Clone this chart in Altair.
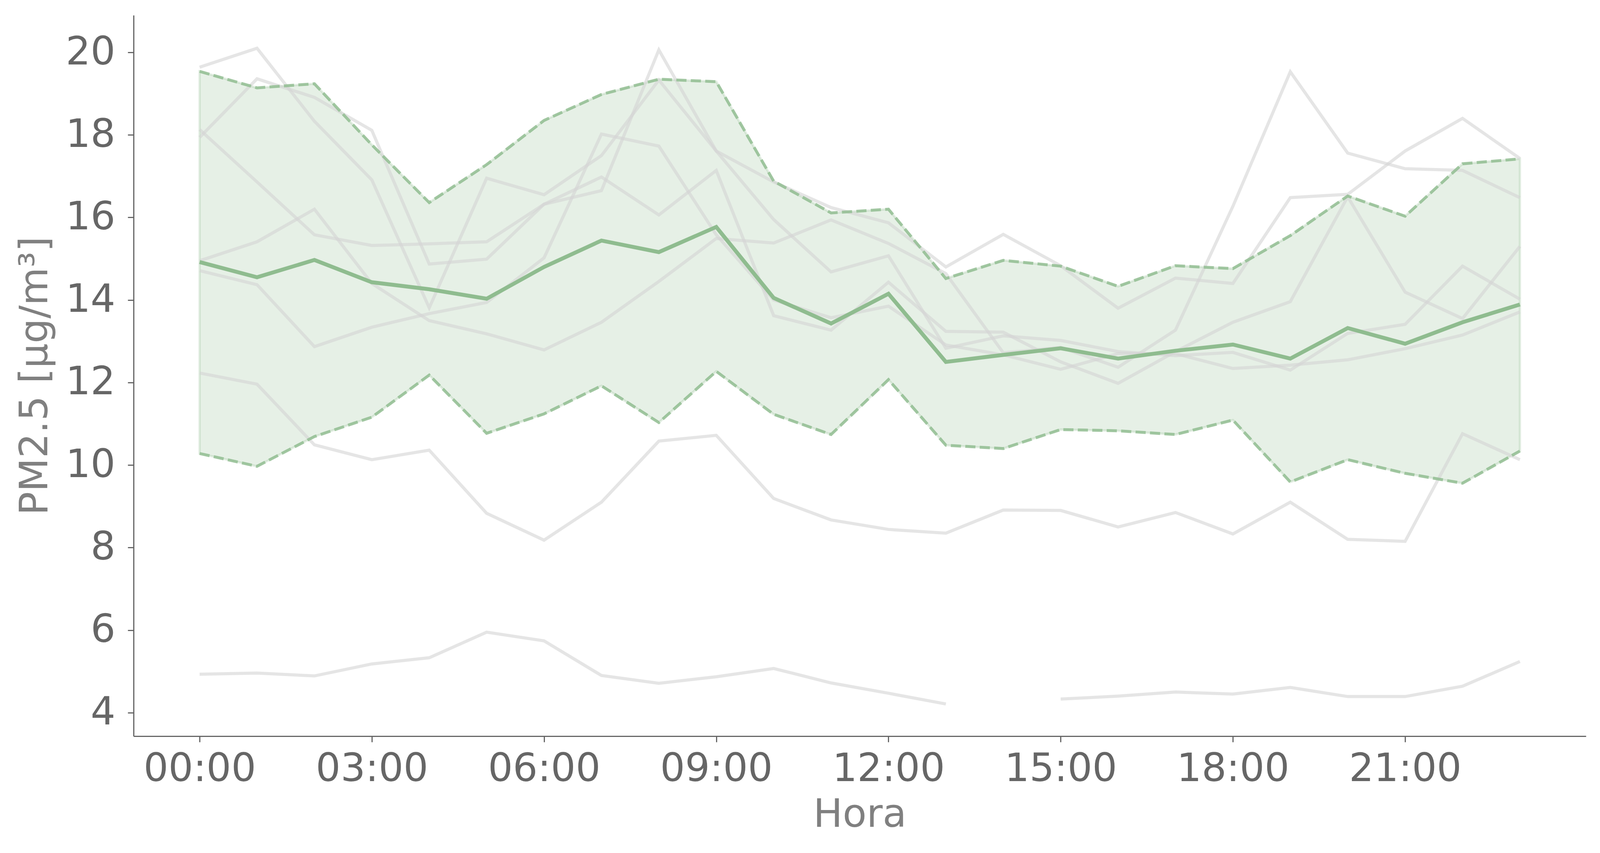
import altair as alt
import pandas as pd

hours = list(range(24))

s1 = [19.64, 20.10, 18.33, 16.91, 13.81, 16.95, 16.55, 17.50, 19.33, 17.61, 15.95, 14.68,
      15.07, 12.83, 13.13, 13.02, 12.75, 12.65, 12.73, 12.30, 13.19, 13.41, 14.82, 14.02]
s2 = [17.94, 19.36, 18.91, 18.11, 14.87, 14.99, 16.32, 16.65, 20.06, 17.61, 16.86, 16.24,
      15.87, 14.80, 15.59, 14.83, 13.80, 14.53, 14.40, 16.48, 16.56, 17.61, 18.40, 17.43]
s3 = [18.13, 16.86, 15.58, 15.32, 15.36, 15.41, 16.32, 16.98, 16.06, 17.14, 13.62, 13.27,
      14.43, 13.24, 13.22, 12.50, 11.98, 12.75, 13.46, 13.96, 16.50, 14.19, 13.55, 15.30]
s4 = [14.95, 15.41, 16.20, 14.40, 13.50, 13.18, 12.79, 13.46, 14.45, 15.49, 15.38, 15.94,
      15.37, 14.64, 12.72, 12.85, 12.37, 13.27, 16.27, 19.53, 17.56, 17.18, 17.14, 16.48]
s5 = [14.71, 14.37, 12.87, 13.34, 13.67, 13.94, 15.02, 18.02, 17.73, 15.58, 14.00, 13.57,
      13.85, 12.91, 12.67, 12.32, 12.70, 12.70, 12.34, 12.42, 12.55, 12.82, 13.15, 13.71]
s6 = [12.23, 11.96, 10.49, 10.13, 10.36, 8.83, 8.18, 9.10, 10.58, 10.72, 9.19, 8.67,
      8.44, 8.35, 8.91, 8.90, 8.50, 8.85, 8.33, 9.10, 8.20, 8.15, 10.76, 10.13]
s7 = [4.93, 4.96, 4.89, 5.18, 5.33, 5.95, 5.74, 4.90, 4.71, 4.87, 5.07, 4.72,
      4.47, 4.21, None, 4.33, 4.40, 4.50, 4.45, 4.61, 4.39, 4.39, 4.64, 5.24]

mean = [14.92, 14.55, 14.97, 14.43, 14.26, 14.03, 14.80, 15.44, 15.16, 15.77, 14.05, 13.43,
        14.15, 12.50, 12.67, 12.83, 12.58, 12.77, 12.92, 12.58, 13.32, 12.94, 13.46, 13.89]
upper = [19.54, 19.14, 19.24, 17.76, 16.36, 17.28, 18.35, 18.98, 19.35, 19.29, 16.88, 16.11,
         16.20, 14.52, 14.96, 14.82, 14.33, 14.83, 14.76, 15.56, 16.52, 16.03, 17.30, 17.42]
lower = [10.28, 9.97, 10.69, 11.16, 12.18, 10.77, 11.24, 11.92, 11.03, 12.27, 11.23, 10.74,
         12.07, 10.48, 10.40, 10.86, 10.83, 10.74, 11.09, 9.59, 10.13, 9.80, 9.56, 10.34]

tick_hours = [0, 3, 6, 9, 12, 15, 18, 21]
y_ticks = [4, 6, 8, 10, 12, 14, 16, 18, 20]

# long table for the grey lines; a missing value starts a new segment
rows = []
for name, vals in [("s1", s1), ("s2", s2), ("s3", s3), ("s4", s4),
                   ("s5", s5), ("s6", s6), ("s7", s7)]:
    seg = 0
    for h, v in zip(hours, vals):
        if v is None:
            seg += 1
            continue
        rows.append({"hour": h, "value": v, "seg": f"{name}_{seg}"})
grey_df = pd.DataFrame(rows)

band_df = pd.DataFrame({"hour": hours, "mean": mean, "upper": upper, "lower": lower})

GREEN = "#8fbc8f"
FONT = "DejaVu Sans"

x_scale = alt.Scale(domain=[-1.15, 24.15], nice=False, zero=False)
y_scale = alt.Scale(domain=[3.43, 20.9], nice=False, zero=False)

x_axis = alt.Axis(
    values=tick_hours,
    labelExpr="(datum.value < 10 ? '0' : '') + datum.value + ':00'",
    title="Hora",
    grid=False,
    labelPadding=20,
    titlePadding=18,
    labelLimit=0,
    labelOverlap=False,
)
y_axis = alt.Axis(
    values=y_ticks,
    title="PM2.5 [μg/m³]",
    grid=False,
    labelPadding=32,
    titlePadding=26,
    labelLimit=0,
)


def X(field):
    return alt.X(field, scale=x_scale, axis=x_axis)


def Y(field):
    return alt.Y(field, scale=y_scale, axis=y_axis)


area = alt.Chart(band_df).mark_area(
    color=GREEN, fillOpacity=0.22, stroke=GREEN, strokeOpacity=0.25, strokeWidth=6
).encode(
    x=X("hour:Q"),
    y=Y("lower:Q"),
    y2="upper:Q",
)

grey = alt.Chart(grey_df).mark_line(
    color="#d3d3d3", opacity=0.6, strokeWidth=8
).encode(
    x=X("hour:Q"),
    y=Y("value:Q"),
    detail="seg:N",
)

up_line = alt.Chart(band_df).mark_line(
    color=GREEN, opacity=0.8, strokeWidth=7.5, strokeDash=[26, 11]
).encode(
    x=X("hour:Q"),
    y=Y("upper:Q"),
)

low_line = alt.Chart(band_df).mark_line(
    color=GREEN, opacity=0.8, strokeWidth=7.5, strokeDash=[26, 11]
).encode(
    x=X("hour:Q"),
    y=Y("lower:Q"),
)

mean_line = alt.Chart(band_df).mark_line(
    color=GREEN, strokeWidth=10
).encode(
    x=X("hour:Q"),
    y=Y("mean:Q"),
)

chart = alt.layer(area, grey, up_line, low_line, mean_line).properties(
    width=3718,
    height=1845,
    padding={"left": 32, "top": 31, "right": 10, "bottom": 10},
    background="white",
).configure_view(
    stroke=None
).configure_axis(
    domainColor="#666666",
    domainWidth=3,
    tickColor="#666666",
    tickWidth=3,
    tickSize=15,
    labelColor="#666666",
    labelFont=FONT,
    labelFontSize=100,
    titleFont=FONT,
    titleFontSize=100,
    titleFontWeight="normal",
    titleColor="#808080",
)

chart.save("out.html", embed_options={"renderer": "svg", "actions": False})
